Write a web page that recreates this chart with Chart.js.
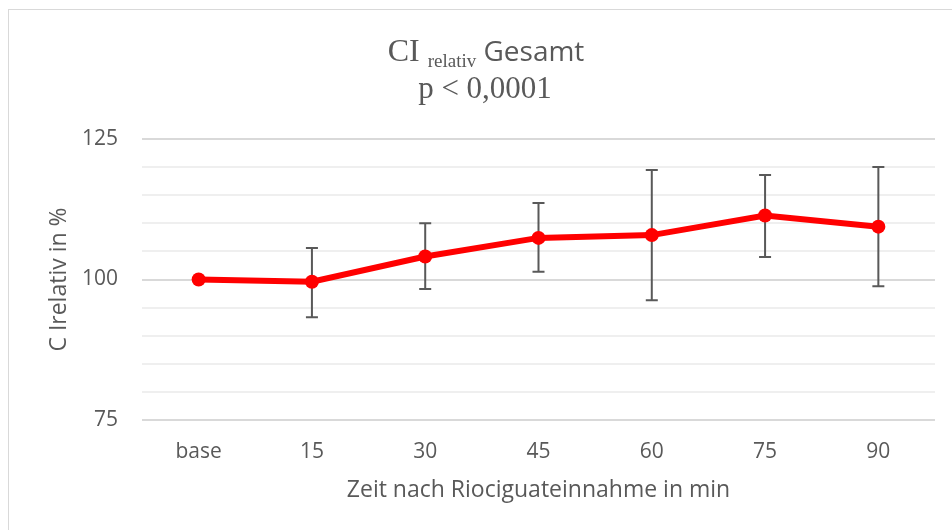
<!DOCTYPE html>
<html><head><meta charset="utf-8">
<script src="https://cdn.jsdelivr.net/npm/chart.js@4"></script>
<style>
html,body{margin:0;padding:0;background:#fff;overflow:hidden}
#frame{position:absolute;left:8px;top:9px;width:1000px;height:600px;border:1px solid #d9d9d9;box-sizing:border-box}
#wrap{position:absolute;left:0;top:0;width:952px;height:530px}
</style></head>
<body>
<div id="frame"></div>
<div id="wrap"><canvas id="c"></canvas></div>
<script>
const categories = ['base', '15', '30', '45', '60', '75', '90'];
const means      = [100, 99.6, 104.1, 107.4, 107.9, 111.4, 109.4];
const errLow     = [null, 93.3, 98.3, 101.4, 96.3, 104.0, 98.8];
const errHigh    = [null, 105.6, 110.0, 113.6, 119.5, 118.6, 120.0];
const yTickLabels = [75, 100, 125];

const TXT = '#595959';

const errorBars = {
  id: 'errorBars',
  beforeDatasetsDraw(chart) {
    const {ctx, scales: {x, y}} = chart;
    ctx.save();
    ctx.strokeStyle = '#595959';
    ctx.lineWidth = 2;
    categories.forEach((c, i) => {
      if (errLow[i] == null) return;
      const px = x.getPixelForValue(i);
      const yl = y.getPixelForValue(errLow[i]);
      const yh = y.getPixelForValue(errHigh[i]);
      ctx.beginPath();
      ctx.moveTo(px, yl); ctx.lineTo(px, yh);
      ctx.moveTo(px - 6, yl); ctx.lineTo(px + 6, yl);
      ctx.moveTo(px - 6, yh); ctx.lineTo(px + 6, yh);
      ctx.stroke();
    });
    ctx.restore();
  }
};

const titlePlugin = {
  id: 'mixedTitle',
  afterDraw(chart) {
    const ctx = chart.ctx;
    const cx = 486;
    ctx.save();
    ctx.fillStyle = TXT;
    ctx.textBaseline = 'alphabetic';
    ctx.textAlign = 'left';
    const parts = [
      {t: 'CI', f: '32px "Liberation Serif"', dy: 0},
      {t: ' ', f: '32px "Liberation Serif"', dy: 0},
      {t: 'relativ', f: '19px "Liberation Serif"', dy: 6},
      {t: ' ', f: '28px "Open Sans"', dy: 0},
      {t: 'Gesamt', f: '28px "Open Sans"', dy: 0}
    ];
    let w = 0;
    parts.forEach(p => { ctx.font = p.f; p.w = ctx.measureText(p.t).width; w += p.w; });
    let xx = cx - w / 2;
    parts.forEach(p => { ctx.font = p.f; ctx.fillText(p.t, xx, 61 + p.dy); xx += p.w; });
    ctx.font = '31px "Liberation Serif"';
    ctx.textAlign = 'center';
    ctx.fillText('p < 0,0001', 485, 98);
    ctx.restore();
  }
};

new Chart(document.getElementById('c'), {
  type: 'line',
  data: {
    labels: categories,
    datasets: [{
      data: means,
      borderColor: '#ff0000',
      backgroundColor: '#ff0000',
      borderWidth: 6,
      pointRadius: 7,
      pointHoverRadius: 7,
      pointBorderWidth: 0,
      tension: 0,
      fill: false
    }]
  },
  options: {
    responsive: true,
    maintainAspectRatio: false,
    animation: false,
    layout: {padding: {top: 139, right: 17, left: 0, bottom: 0}},
    plugins: {legend: {display: false}, tooltip: {enabled: false}, title: {display: false}},
    scales: {
      x: {
        offset: true,
        grid: {display: false, drawTicks: false},
        border: {display: false},
        ticks: {color: TXT, font: {family: 'Open Sans', size: 21}, padding: 19, autoSkip: false, maxRotation: 0},
        title: {display: true, text: 'Zeit nach Riociguateinnahme in min', color: TXT,
                font: {family: 'Open Sans', size: 23}, padding: {top: 0, bottom: 26}},
        afterFit(s) { s.height = 110; }
      },
      y: {
        min: 75, max: 125,
        grid: {
          drawTicks: false,
          color: c => (yTickLabels.includes(c.tick.value) ? '#d9d9d9' : '#efefef'),
          lineWidth: 2
        },
        border: {display: false},
        ticks: {
          stepSize: 5, autoSkip: false, color: TXT, font: {family: 'Open Sans', size: 21}, padding: 24,
          callback: v => (yTickLabels.includes(v) ? String(v) : '')
        },
        title: {display: true, text: 'C Irelativ in %', color: TXT,
                font: {family: 'Open Sans', size: 23}, padding: {top: 46, bottom: 0}},
        afterFit(s) { s.width = 142; }
      }
    }
  },
  plugins: [errorBars, titlePlugin]
});
</script>
</body></html>
